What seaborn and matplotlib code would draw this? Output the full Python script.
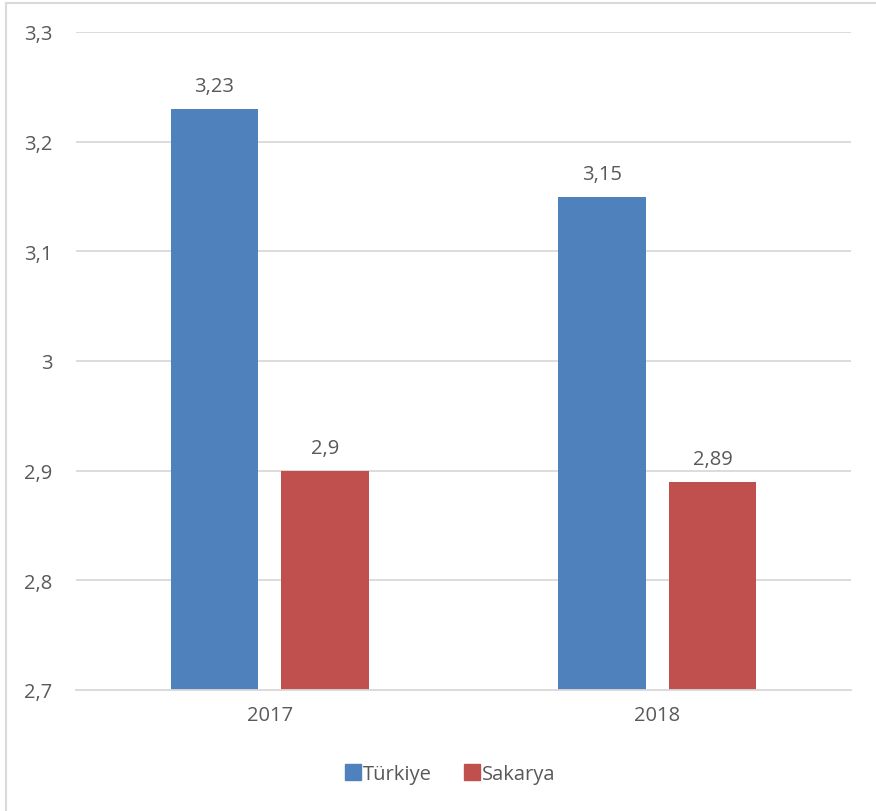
import pandas as pd
import matplotlib.pyplot as plt
import seaborn as sns
from matplotlib.lines import Line2D
from matplotlib.ticker import FuncFormatter

# data
years = ["2017", "2018"]
turkiye = [3.23, 3.15]
sakarya = [2.9, 2.89]
series_names = ["Türkiye", "Sakarya"]
colors = ["#4F81BD", "#C0504D"]

df = pd.DataFrame({
    "Yil": years * 2,
    "Deger": turkiye + sakarya,
    "Seri": [series_names[0]] * 2 + [series_names[1]] * 2,
})

sns.set_style("white")
plt.rcParams["font.family"] = ["Open Sans", "DejaVu Sans"]

text_col = "#595959"
grid_col = "#D9D9D9"
fs = 14.5


def comma(v):
    return f"{v:g}".replace(".", ",")


fig = plt.figure(figsize=(8.76, 8.12), dpi=100)
ax = fig.add_axes([76 / 876, 1 - 691 / 812, 775 / 876, 658 / 812])

sns.barplot(
    data=df, x="Yil", y="Deger", hue="Seri",
    palette=colors, width=0.57, gap=0.21,
    ax=ax, legend=False, saturation=1, linewidth=0,
)

ax.set_ylim(2.7, 3.3)
ax.set_xlim(-0.5, 1.5)
ax.set_yticks([2.7, 2.8, 2.9, 3.0, 3.1, 3.2, 3.3])
ax.yaxis.set_major_formatter(FuncFormatter(lambda v, p: comma(round(v, 2))))
ax.grid(axis="y", color=grid_col, linewidth=1.3)
ax.set_axisbelow(True)
for s in ["top", "right", "left"]:
    ax.spines[s].set_visible(False)
ax.spines["bottom"].set_color(grid_col)
ax.spines["bottom"].set_linewidth(1.3)
ax.tick_params(axis="both", length=0, labelsize=fs, colors=text_col)
ax.tick_params(axis="y", pad=17)
ax.tick_params(axis="x", pad=11)
ax.set_xlabel("")
ax.set_ylabel("")

# value labels
for cont in ax.containers:
    ax.bar_label(cont, labels=[comma(b.get_height()) for b in cont],
                 padding=9, fontsize=fs, color=text_col)

handles = [Line2D([], [], marker="s", linestyle="", markersize=12,
                  markerfacecolor=c, markeredgecolor=c) for c in colors]
fig.legend(handles, series_names, loc="center",
           bbox_to_anchor=(0.5 + 11 / 876, 1 - 775 / 812),
           ncol=2, frameon=False, fontsize=fs, labelcolor=text_col,
           handletextpad=0.0, columnspacing=1.5, handlelength=1.0)

# thin chart border (top and left visible in the reference)
fig.add_artist(Line2D([6 / 876, 1], [1 - 4 / 812, 1 - 4 / 812],
                      transform=fig.transFigure, color=grid_col, linewidth=1.5))
fig.add_artist(Line2D([6 / 876, 6 / 876], [0, 1 - 4 / 812],
                      transform=fig.transFigure, color=grid_col, linewidth=1.5))

fig.savefig("out.png", dpi=100)
